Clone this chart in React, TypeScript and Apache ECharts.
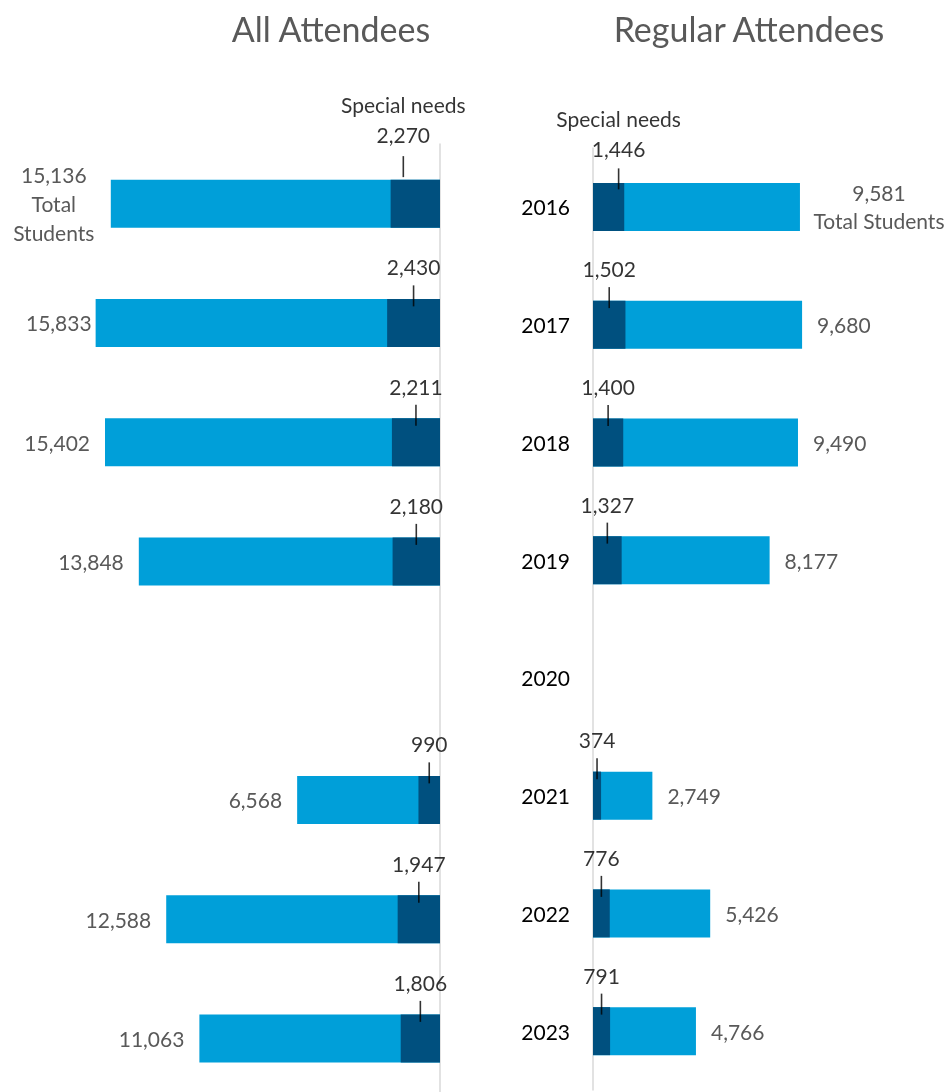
import React, { useEffect, useRef } from "react";
import * as echarts from "echarts";

const years = ["2016", "2017", "2018", "2019", "2020", "2021", "2022", "2023"];
const allTotal: (number | null)[] = [15136, 15833, 15402, 13848, null, 6568, 12588, 11063];
const allSpecial: (number | null)[] = [2270, 2430, 2211, 2180, null, 990, 1947, 1806];
const regTotal: (number | null)[] = [9581, 9680, 9490, 8177, null, 2749, 5426, 4766];
const regSpecial: (number | null)[] = [1446, 1502, 1400, 1327, null, 374, 776, 791];

const FONT = "Lato";
const GRAY = "#595959";
const LIGHT = "#009FD9";
const DARK = "#00507F";
const AXIS = "#D9D9D9";
const fmt = (v: number) => v.toLocaleString("en-US");

function tickData(values: (number | null)[], first: any) {
  const out: any[] = [];
  values.forEach((v, i) => {
    if (v == null) return;
    const item: any = { value: [v / 2, i, v] };
    if (i === 0) Object.assign(item, first);
    out.push(item);
  });
  return out;
}

export default function App() {
  const ref = useRef<HTMLDivElement>(null);
  useEffect(() => {
    if (!ref.current) return;
    const chart = echarts.init(ref.current, null, { renderer: "svg" });
    const barW = 48;
    const numLabel = { color: GRAY, fontSize: 21, fontFamily: FONT };
    const tickLabel = {
      show: true,
      position: "inside",
      offset: [0, -29],
      color: "#000",
      fontSize: 21,
      fontFamily: FONT,
      formatter: (p: any) => fmt(p.value[2]),
    };
    const option: any = {
      animation: false,
      textStyle: { fontFamily: FONT },
      graphic: [
        { type: "text", x: 331, y: 28, style: { text: "All Attendees", font: `34px ${FONT}`, fill: GRAY, textAlign: "center", textVerticalAlign: "middle" } },
        { type: "text", x: 749, y: 28, style: { text: "Regular Attendees", font: `34px ${FONT}`, fill: GRAY, textAlign: "center", textVerticalAlign: "middle" } },
      ],
      grid: [
        { left: 5, width: 435, top: 144, height: 954 },
        { left: 593, width: 324, top: 148, height: 942 },
      ],
      xAxis: [
        { gridIndex: 0, type: "value", inverse: true, min: 0, max: 20000, show: false },
        { gridIndex: 1, type: "value", min: 0, max: 15000, show: false },
      ],
      yAxis: [
        {
          gridIndex: 0, type: "category", data: years, inverse: true, position: "right",
          axisLine: { show: true, lineStyle: { color: AXIS, width: 1.5 } },
          axisTick: { show: false }, axisLabel: { show: false }, splitLine: { show: false },
        },
        {
          gridIndex: 1, type: "category", data: years, inverse: true, position: "left",
          axisLine: { show: true, lineStyle: { color: AXIS, width: 1.5 } },
          axisTick: { show: false }, splitLine: { show: false },
          axisLabel: { color: "#000", fontSize: 21, fontFamily: FONT, margin: 23 },
        },
      ],
      series: [
        {
          type: "bar", xAxisIndex: 0, yAxisIndex: 0, barWidth: barW, barGap: "-100%",
          itemStyle: { color: LIGHT },
          data: allTotal.map((v, i) => {
            if (v == null) return null;
            const item: any = { value: v };
            if (i === 0) {
              item.label = {
                distance: 12,
                formatter: `{c|${fmt(v)}}\n{c|Total}\n{c|Students}`,
                rich: { c: { width: 90, align: "center", lineHeight: 29, fontSize: 21, color: GRAY, fontFamily: FONT } },
              };
            }
            if (i === 1) item.label = { distance: 4 };
            return item;
          }),
          label: { show: true, position: "left", distance: 15, ...numLabel, formatter: (p: any) => fmt(p.value) },
        },
        {
          type: "bar", xAxisIndex: 0, yAxisIndex: 0, barWidth: barW, barGap: "-100%",
          itemStyle: { color: DARK }, z: 3,
          data: allSpecial,
        },
        {
          type: "scatter", xAxisIndex: 0, yAxisIndex: 0, symbol: "rect", symbolSize: [1.6, 21],
          symbolOffset: [0, -27], itemStyle: { color: "#000" }, z: 5,
          label: tickLabel,
          data: tickData(allSpecial, {
            symbolOffset: [-12, -37],
            label: {
              offset: [0, -47],
              formatter: (p: any) => `{h|Special needs}\n{h|${fmt(p.value[2])}}`,
              rich: { h: { lineHeight: 30, fontSize: 21, color: "#000", fontFamily: FONT, align: "center" } },
            },
          }),
        },
        {
          type: "bar", xAxisIndex: 1, yAxisIndex: 1, barWidth: barW, barGap: "-100%",
          itemStyle: { color: LIGHT },
          data: regTotal.map((v, i) => {
            if (v == null) return null;
            const item: any = { value: v };
            if (i === 0) {
              item.label = {
                distance: 8,
                formatter: `{c|${fmt(v)}}\n{c|Total Students}`,
                rich: { c: { width: 142, align: "center", lineHeight: 28, fontSize: 21, color: GRAY, fontFamily: FONT } },
              };
            }
            return item;
          }),
          label: { show: true, position: "right", distance: 15, ...numLabel, formatter: (p: any) => fmt(p.value) },
        },
        {
          type: "bar", xAxisIndex: 1, yAxisIndex: 1, barWidth: barW, barGap: "-100%",
          itemStyle: { color: DARK }, z: 3,
          data: regSpecial,
        },
        {
          type: "scatter", xAxisIndex: 1, yAxisIndex: 1, symbol: "rect", symbolSize: [1.6, 21],
          symbolOffset: [0, -27], itemStyle: { color: "#000" }, z: 5,
          label: tickLabel,
          data: tickData(regSpecial, {
            symbolOffset: [10, -28],
            label: {
              offset: [0, -45],
              formatter: (p: any) => `{h|Special needs}\n{h|${fmt(p.value[2])}}`,
              rich: { h: { lineHeight: 30, fontSize: 21, color: "#000", fontFamily: FONT, align: "center" } },
            },
          }),
        },
      ],
    };
    chart.setOption(option);
    return () => chart.dispose();
  }, []);
  return <div ref={ref} style={{ position: "fixed", left: 0, top: 0, width: 951, height: 1100 }} />;
}
